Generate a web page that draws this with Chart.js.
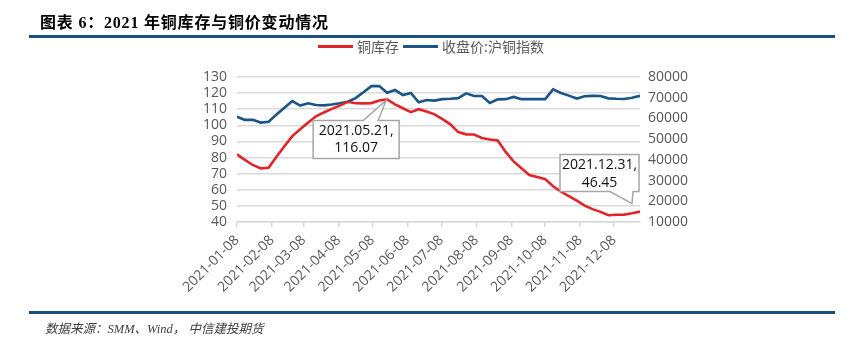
<!DOCTYPE html>
<html><head><meta charset="utf-8">
<script src="https://cdn.jsdelivr.net/npm/chart.js@4.4.1/dist/chart.umd.min.js"></script>
<style>
html,body{margin:0;padding:0;background:#fff;}
#wrap{position:relative;width:856px;height:340px;overflow:hidden;}
#c{position:absolute;left:0;top:0;}
.title{position:absolute;left:40px;top:9px;font:bold 16px 'Liberation Serif','Noto Sans CJK SC',serif;color:#000;letter-spacing:0.8px;white-space:nowrap;}
.rule{position:absolute;left:29px;width:806px;height:3px;background:#1B4F7E;}
.legend{position:absolute;left:318px;top:37px;height:18px;display:flex;align-items:center;font:14px 'Noto Sans CJK SC',sans-serif;color:#595959;white-space:nowrap;}
.legend .sw{display:inline-block;width:35px;height:3px;margin-right:4px;}
.legend .it{display:flex;align-items:center;margin-right:4px;}
.footer{position:absolute;left:45px;top:318px;font:italic 12.5px 'Liberation Serif','Noto Sans CJK SC',serif;color:#404040;white-space:nowrap;}
</style></head>
<body>
<div id="wrap">
  <canvas id="c" width="856" height="340"></canvas>
  <div class="title">图表 6：2021 年铜库存与铜价变动情况</div>
  <div class="rule" style="top:35px"></div>
  <div class="legend" id="legend"></div>
  <div class="rule" style="top:311px"></div>
  <div class="footer">数据来源：SMM、Wind， 中信建投期货</div>
</div>
<script>
const dates = ['2021-01-08','2021-01-15','2021-01-22','2021-01-29','2021-02-05','2021-02-12','2021-02-19','2021-02-26',
'2021-03-05','2021-03-12','2021-03-19','2021-03-26','2021-04-02','2021-04-09','2021-04-16','2021-04-23','2021-04-30',
'2021-05-07','2021-05-14','2021-05-21','2021-05-28','2021-06-04','2021-06-11','2021-06-18','2021-06-25',
'2021-07-02','2021-07-09','2021-07-16','2021-07-23','2021-07-30','2021-08-06','2021-08-13','2021-08-20','2021-08-27',
'2021-09-03','2021-09-10','2021-09-17','2021-09-24','2021-10-01','2021-10-08','2021-10-15','2021-10-22','2021-10-29',
'2021-11-05','2021-11-12','2021-11-19','2021-11-26','2021-12-03','2021-12-10','2021-12-17','2021-12-24','2021-12-31'];

const inventory = [82.0,78.6,75.4,73.3,73.7,80.5,87.0,93.3,97.6,101.7,105.6,108.0,110.2,112.2,114.6,113.7,113.6,
113.8,115.4,116.07,113.0,110.6,108.2,110.0,108.6,106.8,103.8,100.6,95.8,94.4,94.3,92.2,91.2,90.6,83.5,77.6,73.4,
69.2,68.0,66.6,62.2,58.8,56.0,53.2,50.2,48.0,46.3,44.2,44.5,44.6,45.4,46.45];

const price = [60800,59300,59300,58000,58400,61900,65200,68400,66200,67300,66500,66300,66700,67300,68100,69800,72600,
75600,75600,72400,73700,71300,72300,67800,68900,68600,69300,69500,69800,72100,70800,70800,67500,69200,69300,70400,
69300,69300,69300,69300,74000,72300,71000,69600,70700,70900,70800,69700,69500,69400,70000,70900];

const tickLabels = ['2021-01-08','2021-02-08','2021-03-08','2021-04-08','2021-05-08','2021-06-08',
'2021-07-08','2021-08-08','2021-09-08','2021-10-08','2021-11-08','2021-12-08'];

const seriesNames = ['铜库存','收盘价:沪铜指数'];
const seriesColors = ['#E1232A','#1B5486'];
const calloutIdx = [19, 51];

// legend
const lg = document.getElementById('legend');
seriesNames.forEach((n,i)=>{
  const it = document.createElement('span'); it.className='it';
  const sw = document.createElement('span'); sw.className='sw'; sw.style.background=seriesColors[i];
  it.appendChild(sw); it.appendChild(document.createTextNode(n)); lg.appendChild(it);
});

const DAY = 86400000;
const t0 = Date.parse(dates[0]);
const dayOf = s => Math.round((Date.parse(s) - t0) / DAY);
const FONT = "'Open Sans','Noto Sans CJK SC',sans-serif";

const calloutPlugin = {
  id: 'callout',
  afterDatasetsDraw(chart) {
    const ctx = chart.ctx, xs = chart.scales.x, ys = chart.scales.y;
    calloutIdx.forEach((idx, k) => {
      const px = xs.getPixelForValue(dayOf(dates[idx]));
      const py = ys.getPixelForValue(inventory[idx]);
      let L, T, W, H;
      ctx.save();
      ctx.beginPath();
      if (k === 0) {
        L = px - 74; T = py + 21; W = 86; H = 38;
        const n1 = px - 24, n2 = px - 9, tx = px - 1, ty = py + 1;
        ctx.moveTo(L, T); ctx.lineTo(n1, T); ctx.lineTo(tx, ty); ctx.lineTo(n2, T);
        ctx.lineTo(L + W, T); ctx.lineTo(L + W, T + H); ctx.lineTo(L, T + H); ctx.closePath();
      } else {
        L = px - 80; T = py - 57; W = 79; H = 37;
        const n1 = px - 30, n2 = px - 7, tx = px - 8, ty = py - 8;
        ctx.moveTo(L, T); ctx.lineTo(L + W, T); ctx.lineTo(L + W, T + H); ctx.lineTo(n2, T + H);
        ctx.lineTo(tx, ty); ctx.lineTo(n1, T + H); ctx.lineTo(L, T + H); ctx.closePath();
      }
      ctx.fillStyle = '#fff'; ctx.fill();
      ctx.strokeStyle = '#A6A6A6'; ctx.lineWidth = 1.5; ctx.stroke();
      ctx.fillStyle = '#111'; ctx.font = '14px ' + FONT; ctx.textAlign = 'center'; ctx.textBaseline = 'middle';
      ctx.fillText(dates[idx].replace(/-/g, '.') + ',', L + W / 2, T + 10.5);
      ctx.fillText(inventory[idx].toFixed(2), L + W / 2, T + 28);
      ctx.restore();
    });
  }
};

new Chart(document.getElementById('c'), {
  type: 'line',
  data: {
    datasets: [
      { label: seriesNames[0], data: dates.map((d,i)=>({x: dayOf(d), y: inventory[i]})), yAxisID: 'y',
        borderColor: seriesColors[0], borderWidth: 2.6, pointRadius: 0, tension: 0, fill: false },
      { label: seriesNames[1], data: dates.map((d,i)=>({x: dayOf(d), y: price[i]})), yAxisID: 'y1',
        borderColor: seriesColors[1], borderWidth: 2.6, pointRadius: 0, tension: 0, fill: false }
    ]
  },
  options: {
    responsive: false, animation: false, devicePixelRatio: 1,
    layout: { padding: { top: 77, left: 0, right: 0, bottom: 0 } },
    plugins: { legend: { display: false }, tooltip: { enabled: false } },
    scales: {
      x: {
        type: 'linear', min: 0, max: dayOf(dates[dates.length - 1]),
        afterBuildTicks: s => { s.ticks = tickLabels.map(l => ({ value: dayOf(l) })); },
        afterFit: s => { s.height = 118; },
        ticks: { autoSkip: false, maxRotation: 45, minRotation: 45, padding: 5,
          callback: (v, i) => tickLabels[i], color: '#595959', font: { family: FONT, size: 14 } },
        grid: { display: true, drawOnChartArea: false, drawTicks: true, tickLength: 5, color: '#D9D9D9', lineWidth: 1.5 },
        border: { display: true, color: '#D9D9D9', width: 1.5 }
      },
      y: {
        position: 'left', min: 40, max: 130,
        afterFit: s => { s.width = 237; },
        ticks: { stepSize: 10, autoSkip: false, padding: 10, color: '#595959', font: { family: FONT, size: 14 },
          callback: v => String(v) },
        grid: { color: '#D9D9D9', lineWidth: 1.5, drawTicks: false },
        border: { display: false }
      },
      y1: {
        position: 'right', min: 10000, max: 80000,
        afterFit: s => { s.width = 216; },
        ticks: { stepSize: 10000, autoSkip: false, padding: 8, color: '#595959', font: { family: FONT, size: 14 },
          callback: v => String(v) },
        grid: { drawOnChartArea: false, drawTicks: false },
        border: { display: false }
      }
    }
  },
  plugins: [calloutPlugin]
});
</script>
</body></html>
